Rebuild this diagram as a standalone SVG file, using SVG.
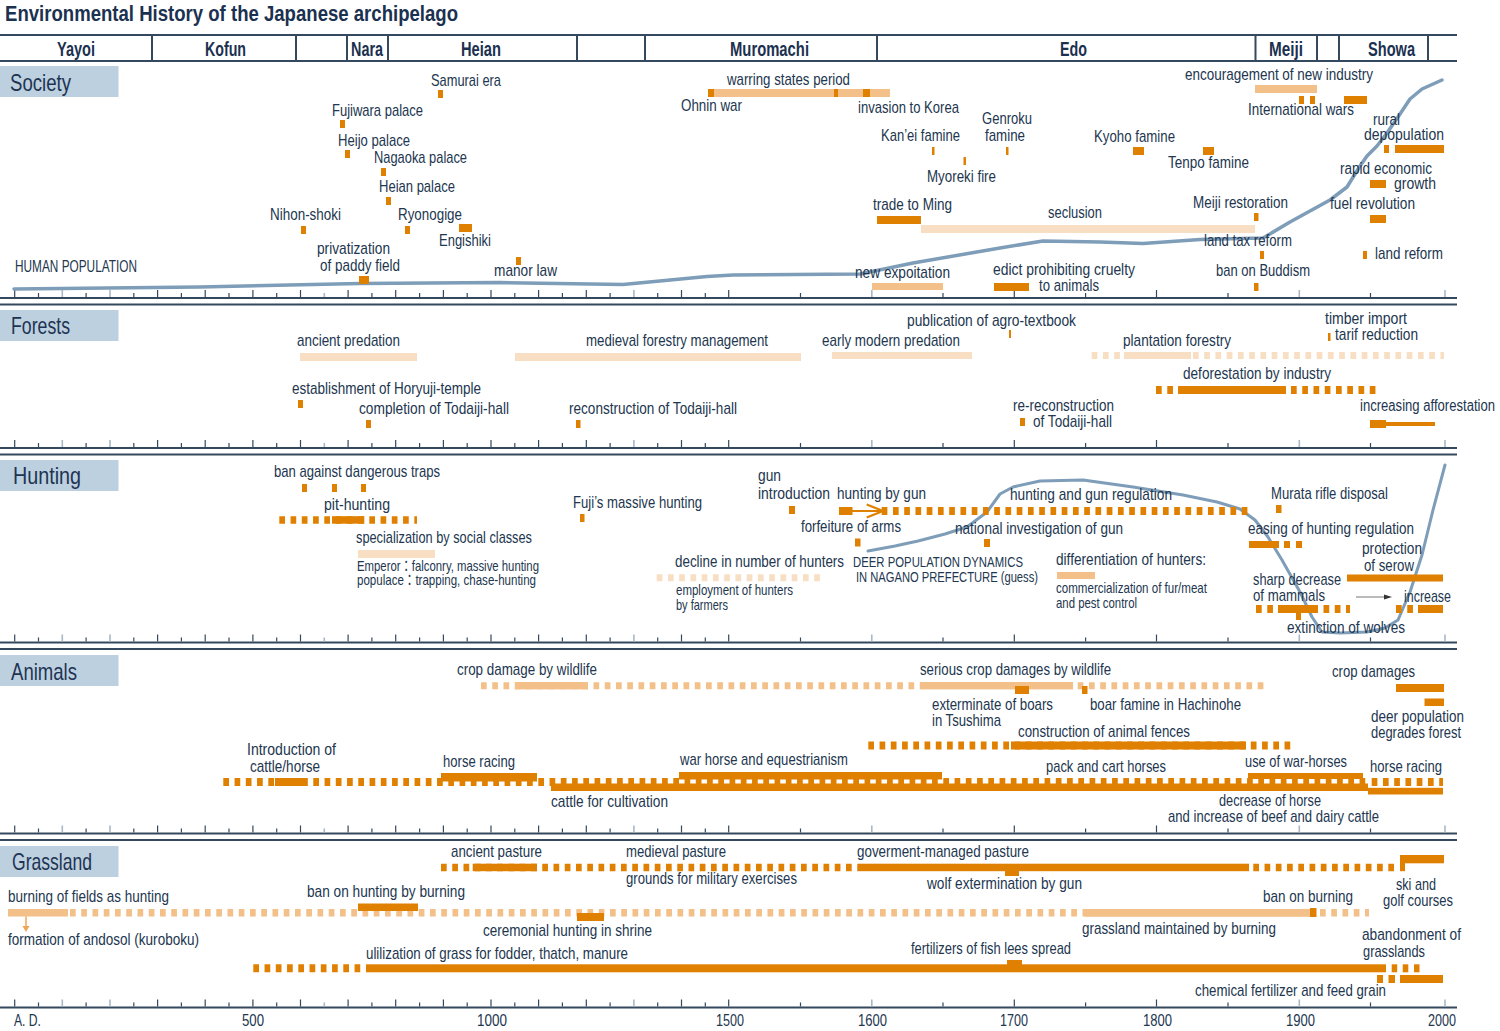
<svg xmlns="http://www.w3.org/2000/svg" width="1500" height="1031" viewBox="0 0 1500 1031">
<style>
text{font-family:'Liberation Sans Narrow','Liberation Sans',Arial,'Noto Sans CJK JP',sans-serif;fill:#22364f;font-size:17px}
.s{font-size:14.5px}
.n{font-size:15.5px}
.h{font-size:20px;font-weight:bold;fill:#1b3150}
.ttl{font-size:22px;font-weight:bold;fill:#1b3150}
.sec{font-size:24px;fill:#1e3452}
.ax{font-size:17px}
.d{fill:#e08000}
.m{fill:#f2c088}
.p{fill:#f8dfc4}
.dd,.dm,.dp{stroke-dasharray:5.7 5.55;fill:none}
.dd{stroke:#e08000}
.dm{stroke:#f2c088}
.dp{stroke:#f8dfc4}
.box{fill:#bdd0e0}
.ln{stroke:#34495e;stroke-width:2}
.tk{stroke:#34495e;stroke-width:1.2;fill:none}
.tg{stroke:#a9b8c6;stroke-width:1.6;fill:none}
.curve{fill:none;stroke:#7e9db8;stroke-width:3.5;stroke-linejoin:round;stroke-linecap:round}
</style>
<defs>
<g id="ticks">
<path class="tk" d="M14.7 0v-7M157.6 0v-7M205.2 0v-7M252.9 0v-7M300.5 0v-7M348.1 0v-7M395.7 0v-7M443.4 0v-7M491 0v-7M538.6 0v-7M586.3 0v-7M681.5 0v-7M728.7 0v-7M1014.3 0v-7M1156.5 0v-7M38.5 0v-4M86.1 0v-4M133.8 0v-4M181.4 0v-4M229 0v-4M276.7 0v-4M371.9 0v-4M419.6 0v-4M467.2 0v-4M514.8 0v-4M562.4 0v-4M610.1 0v-4M657.7 0v-4M705.3 0v-4M800.5 0v-4M943 0v-4M1085.6 0v-4M1228 0v-4M1370.5 0v-4"/>
<path class="tg" d="M62.3 0v-7M110 0v-7M633.9 0v-7M871.8 0v-7M1299.3 0v-7M1445 0v-7M324.3 0v-4"/>
</g>
</defs>
<rect width="1500" height="1031" fill="#ffffff"/>

<g id="title"><text class="ttl" x="5" y="21" textLength="453" lengthAdjust="spacingAndGlyphs">Environmental History of the Japanese archipelago</text></g>

<g id="frame">
<line class="ln" x1="0" x2="1457" y1="35" y2="35"/>
<line class="ln" x1="0" x2="1457" y1="61" y2="61"/>
<path class="ln" d="M152 35V61M296 35V61M347 35V61M388 35V61M577 35V61M645 35V61M877 35V61M1255.5 35V61M1317 35V61M1339 35V61M1428 35V61" fill="none"/>
<line class="ln" x1="0" x2="1457" y1="298" y2="298"/>
<line class="ln" x1="0" x2="1457" y1="304.5" y2="304.5"/>
<line class="ln" x1="0" x2="1457" y1="448" y2="448"/>
<line class="ln" x1="0" x2="1457" y1="454.5" y2="454.5"/>
<line class="ln" x1="0" x2="1457" y1="642.5" y2="642.5"/>
<line class="ln" x1="0" x2="1457" y1="649" y2="649"/>
<line class="ln" x1="0" x2="1457" y1="833.5" y2="833.5"/>
<line class="ln" x1="0" x2="1457" y1="840" y2="840"/>
<line class="ln" x1="0" x2="1457" y1="1007.5" y2="1007.5"/>
<use href="#ticks" y="297"/>
<use href="#ticks" y="447"/>
<use href="#ticks" y="641.5"/>
<use href="#ticks" y="832.5"/>
<use href="#ticks" y="1006.5"/>
</g>

<g id="eras">
<text class="h" x="57" y="56" textLength="38" lengthAdjust="spacingAndGlyphs">Yayoi</text>
<text class="h" x="205" y="56" textLength="41" lengthAdjust="spacingAndGlyphs">Kofun</text>
<text class="h" x="351" y="56" textLength="32" lengthAdjust="spacingAndGlyphs">Nara</text>
<text class="h" x="461" y="56" textLength="40" lengthAdjust="spacingAndGlyphs">Heian</text>
<text class="h" x="730" y="56" textLength="79" lengthAdjust="spacingAndGlyphs">Muromachi</text>
<text class="h" x="1060" y="56" textLength="27" lengthAdjust="spacingAndGlyphs">Edo</text>
<text class="h" x="1269" y="56" textLength="34" lengthAdjust="spacingAndGlyphs">Meiji</text>
<text class="h" x="1368" y="56" textLength="47" lengthAdjust="spacingAndGlyphs">Showa</text>
</g>

<g id="axis">
<text class="ax" x="14" y="1026" textLength="27" lengthAdjust="spacingAndGlyphs">A. D.</text>
<text class="ax" x="242" y="1026" textLength="22" lengthAdjust="spacingAndGlyphs">500</text>
<text class="ax" x="477" y="1026" textLength="30" lengthAdjust="spacingAndGlyphs">1000</text>
<text class="ax" x="716" y="1026" textLength="28" lengthAdjust="spacingAndGlyphs">1500</text>
<text class="ax" x="858" y="1026" textLength="29" lengthAdjust="spacingAndGlyphs">1600</text>
<text class="ax" x="1000" y="1026" textLength="28" lengthAdjust="spacingAndGlyphs">1700</text>
<text class="ax" x="1143" y="1026" textLength="29" lengthAdjust="spacingAndGlyphs">1800</text>
<text class="ax" x="1286" y="1026" textLength="29" lengthAdjust="spacingAndGlyphs">1900</text>
<text class="ax" x="1428" y="1026" textLength="28" lengthAdjust="spacingAndGlyphs">2000</text>
</g>

<g id="section-labels">
<rect class="box" x="0" y="66" width="118.5" height="31"/>
<text class="sec" x="10" y="91" textLength="61" lengthAdjust="spacingAndGlyphs">Society</text>
<rect class="box" x="0" y="310" width="118.5" height="31"/>
<text class="sec" x="11" y="334" textLength="59" lengthAdjust="spacingAndGlyphs">Forests</text>
<rect class="box" x="0" y="460" width="118.5" height="31"/>
<text class="sec" x="13" y="484" textLength="68" lengthAdjust="spacingAndGlyphs">Hunting</text>
<rect class="box" x="0" y="655" width="118.5" height="31"/>
<text class="sec" x="11" y="680" textLength="66" lengthAdjust="spacingAndGlyphs">Animals</text>
<rect class="box" x="0" y="846" width="118.5" height="31"/>
<text class="sec" x="12" y="870" textLength="80" lengthAdjust="spacingAndGlyphs">Grassland</text>
</g>

<g id="human-population">
<path class="curve" d="M14 289 L200 287 L360 283.5 L500 282.5 L623 284.5 L707 276.5 L733 275 L860 274 L913 263 L1000 248 L1043 241 L1100 242 L1143 243.5 L1200 239.5 L1263 238 L1290 222 L1330 200 L1347 187 L1360 166 L1367 156 L1377 146 L1387 133 L1400 114 L1410 99 L1422 89 L1442 80"/>
<text x="15" y="272" textLength="122" lengthAdjust="spacingAndGlyphs">HUMAN POPULATION</text>
</g>

<g id="deer-population">
<path class="curve" style="stroke-width:3" d="M868 551 L895 546 L918 541 L945 534 L967 527 L987 512 L1000 494 L1013 487 L1040 481 L1083 480 L1133 487 L1183 495 L1217 502 L1240 509 L1255 520 L1268 537 L1282 560 L1300 592 L1312 617 L1322 632 L1340 633 L1367 632 L1385 628 L1398 620 L1410 592 L1422 555 L1433 510 L1445 465"/>
<text class="n" x="853" y="567" textLength="170" lengthAdjust="spacingAndGlyphs">DEER POPULATION DYNAMICS</text>
<text class="n" x="856" y="582" textLength="182" lengthAdjust="spacingAndGlyphs">IN NAGANO PREFECTURE (guess)</text>
</g>

<!-- SOCIETY -->
<g id="samurai-era"><text x="431" y="86" textLength="70" lengthAdjust="spacingAndGlyphs">Samurai era</text><rect class="d" x="438" y="90" width="5" height="8"/></g>
<g id="fujiwara-palace"><text x="332" y="116" textLength="91" lengthAdjust="spacingAndGlyphs">Fujiwara palace</text><rect class="d" x="340" y="120" width="5" height="8"/></g>
<g id="heijo-palace"><text x="338" y="146" textLength="72" lengthAdjust="spacingAndGlyphs">Heijo palace</text><rect class="d" x="345" y="150" width="5" height="8"/></g>
<g id="nagaoka-palace"><text x="374" y="163" textLength="93" lengthAdjust="spacingAndGlyphs">Nagaoka palace</text><rect class="d" x="381" y="168" width="5" height="8"/></g>
<g id="heian-palace"><text x="379" y="192" textLength="76" lengthAdjust="spacingAndGlyphs">Heian palace</text><rect class="d" x="386" y="197" width="5" height="8"/></g>
<g id="nihon-shoki"><text x="270" y="220" textLength="71" lengthAdjust="spacingAndGlyphs">Nihon-shoki</text><rect class="d" x="301" y="226" width="5" height="8"/></g>
<g id="ryonogige"><text x="398" y="220" textLength="64" lengthAdjust="spacingAndGlyphs">Ryonogige</text><rect class="d" x="405" y="226" width="5" height="8"/></g>
<g id="engishiki"><text x="439" y="246" textLength="52" lengthAdjust="spacingAndGlyphs">Engishiki</text><rect class="d" x="459" y="224" width="13" height="8"/></g>
<g id="privatization"><text x="317" y="254" textLength="73" lengthAdjust="spacingAndGlyphs">privatization</text><text x="320" y="271" textLength="80" lengthAdjust="spacingAndGlyphs">of paddy field</text><rect class="d" x="359" y="276" width="10" height="8"/></g>
<g id="manor-law"><text x="494" y="276" textLength="63" lengthAdjust="spacingAndGlyphs">manor law</text><rect class="d" x="516" y="257" width="5" height="8"/></g>
<g id="warring-states"><text x="727" y="85" textLength="123" lengthAdjust="spacingAndGlyphs">warring states period</text><rect class="m" x="708" y="89" width="182" height="8"/><rect class="d" x="708" y="89" width="6" height="8"/><rect class="d" x="834" y="89" width="4" height="8"/><rect class="d" x="863" y="89" width="7" height="8"/></g>
<g id="ohnin-war"><text x="681" y="111" textLength="61" lengthAdjust="spacingAndGlyphs">Ohnin war</text></g>
<g id="invasion-korea"><text x="858" y="113" textLength="101" lengthAdjust="spacingAndGlyphs">invasion to Korea</text></g>
<g id="kanei-famine"><text x="881" y="141" textLength="79" lengthAdjust="spacingAndGlyphs">Kan’ei famine</text><rect class="d" x="932" y="147" width="2.5" height="8"/></g>
<g id="myoreki-fire"><text x="927" y="182" textLength="69" lengthAdjust="spacingAndGlyphs">Myoreki fire</text><rect class="d" x="963.5" y="157" width="2.5" height="8"/></g>
<g id="genroku-famine"><text x="982" y="124" textLength="50" lengthAdjust="spacingAndGlyphs">Genroku</text><text x="985" y="141" textLength="40" lengthAdjust="spacingAndGlyphs">famine</text><rect class="d" x="1006" y="147" width="2.5" height="8"/></g>
<g id="trade-ming"><text x="873" y="210" textLength="79" lengthAdjust="spacingAndGlyphs">trade to Ming</text><rect class="d" x="877" y="216" width="44" height="8"/></g>
<g id="seclusion"><text x="1048" y="218" textLength="54" lengthAdjust="spacingAndGlyphs">seclusion</text><rect class="p" x="921" y="225" width="334" height="8"/></g>
<g id="new-expoitation"><text x="855" y="278" textLength="95" lengthAdjust="spacingAndGlyphs">new expoitation</text><rect class="m" x="872" y="283" width="71" height="7"/></g>
<g id="edict-cruelty"><text x="993" y="275" textLength="142" lengthAdjust="spacingAndGlyphs">edict prohibiting cruelty</text><text x="1039" y="291" textLength="60" lengthAdjust="spacingAndGlyphs">to animals</text><rect class="d" x="994" y="283" width="35" height="8"/></g>
<g id="kyoho-famine"><text x="1094" y="142" textLength="81" lengthAdjust="spacingAndGlyphs">Kyoho famine</text><rect class="d" x="1133" y="147" width="11" height="8"/></g>
<g id="tenpo-famine"><text x="1168" y="168" textLength="81" lengthAdjust="spacingAndGlyphs">Tenpo famine</text><rect class="d" x="1203" y="147" width="11" height="8"/></g>
<g id="meiji-restoration"><text x="1193" y="208" textLength="95" lengthAdjust="spacingAndGlyphs">Meiji restoration</text><rect class="d" x="1254" y="213" width="4.5" height="8"/></g>
<g id="land-tax-reform"><text x="1204" y="246" textLength="88" lengthAdjust="spacingAndGlyphs">land tax reform</text><rect class="d" x="1260" y="251" width="4" height="8"/></g>
<g id="ban-buddism"><text x="1216" y="276" textLength="94" lengthAdjust="spacingAndGlyphs">ban on Buddism</text><rect class="d" x="1254" y="283" width="4.5" height="8"/></g>
<g id="new-industry"><text x="1185" y="80" textLength="188" lengthAdjust="spacingAndGlyphs">encouragement of new industry</text><rect class="m" x="1255" y="85" width="62" height="8"/></g>
<g id="international-wars"><text x="1248" y="115" textLength="106" lengthAdjust="spacingAndGlyphs">International wars</text><rect class="d" x="1299" y="96" width="5" height="8"/><rect class="d" x="1310" y="96" width="5" height="8"/><rect class="d" x="1344" y="96" width="23" height="8"/></g>
<g id="rural-depopulation"><text style="font-size:16px" x="1373" y="125" textLength="27" lengthAdjust="spacingAndGlyphs">rural</text><text style="font-size:16px" x="1364" y="139.5" textLength="80" lengthAdjust="spacingAndGlyphs">depopulation</text><rect class="d" x="1384" y="145" width="5" height="8"/><rect class="d" x="1395" y="145" width="49" height="8"/></g>
<g id="rapid-growth"><text style="font-size:16px" x="1340" y="174" textLength="92" lengthAdjust="spacingAndGlyphs">rapid economic</text><text style="font-size:16px" x="1394" y="189" textLength="42" lengthAdjust="spacingAndGlyphs">growth</text><rect class="d" x="1370" y="180" width="16" height="8"/></g>
<g id="fuel-revolution"><text x="1330" y="209" textLength="85" lengthAdjust="spacingAndGlyphs">fuel revolution</text><rect class="d" x="1370" y="215" width="16" height="8"/></g>
<g id="land-reform"><text x="1375" y="259" textLength="68" lengthAdjust="spacingAndGlyphs">land reform</text><rect class="d" x="1363" y="251" width="4" height="8"/></g>

<!-- FORESTS -->
<g id="ancient-predation"><text x="297" y="346" textLength="103" lengthAdjust="spacingAndGlyphs">ancient predation</text><rect class="p" x="300" y="353" width="117" height="8"/></g>
<g id="horyuji"><text x="292" y="394" textLength="189" lengthAdjust="spacingAndGlyphs">establishment of Horyuji-temple</text><rect class="d" x="298" y="400" width="5" height="8"/></g>
<g id="todaiji-completion"><text x="359" y="414" textLength="150" lengthAdjust="spacingAndGlyphs">completion of Todaiji-hall</text><rect class="d" x="366" y="420" width="5" height="8"/></g>
<g id="medieval-forestry"><text x="586" y="346" textLength="182" lengthAdjust="spacingAndGlyphs">medieval forestry management</text><rect class="p" x="515" y="353" width="286" height="8"/></g>
<g id="early-modern-predation"><text x="822" y="346" textLength="138" lengthAdjust="spacingAndGlyphs">early modern predation</text><rect class="p" x="832" y="352" width="140" height="7"/></g>
<g id="todaiji-reconstruction"><text x="569" y="414" textLength="168" lengthAdjust="spacingAndGlyphs">reconstruction of Todaiji-hall</text><rect class="d" x="576" y="420" width="4.5" height="8"/></g>
<g id="agro-textbook"><text x="907" y="326" textLength="169" lengthAdjust="spacingAndGlyphs">publication of agro-textbook</text><rect class="d" x="1009" y="330" width="2" height="8"/></g>
<g id="plantation-forestry"><text x="1123" y="346" textLength="108" lengthAdjust="spacingAndGlyphs">plantation forestry</text><line class="dp" x1="1091.7" x2="1444" y1="355.5" y2="355.5" stroke-width="7"/><rect class="p" x="1124" y="352" width="67" height="7"/></g>
<g id="timber-import"><text x="1325" y="324" textLength="82" lengthAdjust="spacingAndGlyphs">timber import</text><text x="1335" y="340" textLength="83" lengthAdjust="spacingAndGlyphs">tarif reduction</text><rect class="d" x="1328" y="333" width="2.5" height="8"/></g>
<g id="deforestation"><text x="1183" y="379" textLength="148" lengthAdjust="spacingAndGlyphs">deforestation by industry</text><line class="dd" x1="1156" x2="1377" y1="390" y2="390" stroke-width="8"/><rect class="d" x="1178" y="386" width="108" height="8"/></g>
<g id="todaiji-re-reconstruction"><text x="1013" y="411" textLength="101" lengthAdjust="spacingAndGlyphs">re-reconstruction</text><text x="1033" y="427" textLength="79" lengthAdjust="spacingAndGlyphs">of Todaiji-hall</text><rect class="d" x="1020" y="418" width="5" height="8"/></g>
<g id="afforestation"><text style="font-size:16px" x="1360" y="411" textLength="135" lengthAdjust="spacingAndGlyphs">increasing afforestation</text><rect class="d" x="1370" y="420" width="16" height="8"/><rect class="d" x="1386" y="422" width="49" height="4"/></g>

<!-- HUNTING -->
<g id="dangerous-traps"><text x="274" y="477" textLength="166" lengthAdjust="spacingAndGlyphs">ban against dangerous traps</text><rect class="d" x="302" y="484" width="5" height="8"/><rect class="d" x="332" y="484" width="5" height="8"/><rect class="d" x="361" y="484" width="5" height="8"/></g>
<g id="pit-hunting"><text x="324" y="510" textLength="66" lengthAdjust="spacingAndGlyphs">pit-hunting</text><line class="dd" x1="279.3" x2="417" y1="520" y2="520" stroke-width="7.5"/><rect class="d" x="332" y="516.2" width="32.3" height="7.5"/></g>
<g id="social-classes"><text x="356" y="543" textLength="176" lengthAdjust="spacingAndGlyphs">specialization by social classes</text><rect class="p" x="358" y="550" width="77" height="8"/><text class="s" x="357" y="571" textLength="182" lengthAdjust="spacingAndGlyphs">Emperor：falconry, massive hunting</text><text class="s" x="357" y="585" textLength="179" lengthAdjust="spacingAndGlyphs">populace：trapping, chase-hunting</text></g>
<g id="fuji-hunting"><text x="573" y="508" textLength="129" lengthAdjust="spacingAndGlyphs">Fuji’s massive hunting</text><rect class="d" x="580" y="514" width="4.5" height="8"/></g>
<g id="gun-introduction"><text x="758" y="481" textLength="23" lengthAdjust="spacingAndGlyphs">gun</text><text x="758" y="499" textLength="72" lengthAdjust="spacingAndGlyphs">introduction</text><rect class="d" x="789" y="506" width="6" height="8"/></g>
<g id="hunting-by-gun"><text x="837" y="499" textLength="89" lengthAdjust="spacingAndGlyphs">hunting by gun</text><rect class="d" x="839" y="507" width="13.5" height="8"/><line class="dd" x1="881.7" x2="1248.5" y1="511" y2="511" stroke-width="8"/></g>
<g id="forfeiture-arms"><text x="801" y="532" textLength="100" lengthAdjust="spacingAndGlyphs">forfeiture of arms</text><rect class="d" x="855" y="538.5" width="5.5" height="8"/></g>
<g id="gun-regulation"><text x="1010" y="500" textLength="162" lengthAdjust="spacingAndGlyphs">hunting and gun regulation</text></g>
<g id="gun-investigation"><text x="955" y="534" textLength="168" lengthAdjust="spacingAndGlyphs">national investigation of gun</text><rect class="d" x="984" y="539" width="6" height="8"/></g>
<g id="murata-rifle"><text x="1271" y="499" textLength="117" lengthAdjust="spacingAndGlyphs">Murata rifle disposal</text><rect class="d" x="1276" y="505" width="5.5" height="8"/></g>
<g id="easing-regulation"><text x="1248" y="534" textLength="166" lengthAdjust="spacingAndGlyphs">easing of hunting regulation</text><rect class="d" x="1249" y="541" width="30" height="7"/><rect class="d" x="1284" y="541" width="6" height="7"/><rect class="d" x="1296" y="541" width="6" height="7"/></g>
<g id="decline-hunters"><text x="675" y="567" textLength="169" lengthAdjust="spacingAndGlyphs">decline in number of hunters</text><line class="dp" x1="656.7" x2="821" y1="577.7" y2="577.7" stroke-width="7"/><text class="s" x="676" y="595" textLength="117" lengthAdjust="spacingAndGlyphs">employment of hunters</text><text class="s" x="676" y="610" textLength="52" lengthAdjust="spacingAndGlyphs">by farmers</text></g>
<g id="differentiation-hunters"><text x="1056" y="565" textLength="150" lengthAdjust="spacingAndGlyphs">differentiation of hunters:</text><rect class="m" x="1057" y="572" width="38" height="7"/><text class="s" x="1056" y="593" textLength="151" lengthAdjust="spacingAndGlyphs">commercialization of fur/meat</text><text class="s" x="1056" y="608" textLength="81" lengthAdjust="spacingAndGlyphs">and pest control</text></g>
<g id="serow-protection"><text x="1362" y="554" textLength="60" lengthAdjust="spacingAndGlyphs">protection</text><text x="1364" y="571" textLength="50" lengthAdjust="spacingAndGlyphs">of serow</text><rect class="d" x="1347" y="574.5" width="96" height="7"/></g>
<g id="mammals-decrease"><text x="1253" y="585" textLength="88" lengthAdjust="spacingAndGlyphs">sharp decrease</text><text x="1253" y="601" textLength="72" lengthAdjust="spacingAndGlyphs">of mammals</text><line class="dd" x1="1256" x2="1350" y1="609" y2="609" stroke-width="8"/><rect class="d" x="1278" y="605" width="40" height="8"/></g>
<g id="mammals-increase"><text x="1404" y="602" textLength="47" lengthAdjust="spacingAndGlyphs">increase</text><line class="dd" x1="1396" x2="1413" y1="609" y2="609" stroke-width="8"/><rect class="d" x="1418" y="605" width="25" height="8"/></g>
<g id="wolves-extinction"><text x="1287" y="633" textLength="118" lengthAdjust="spacingAndGlyphs">extinction of wolves</text><rect class="d" x="1296" y="612" width="5" height="8"/></g>

<!-- ANIMALS -->
<g id="crop-damage"><text x="457" y="675" textLength="140" lengthAdjust="spacingAndGlyphs">crop damage by wildlife</text><line class="dm" x1="481" x2="920" y1="685.7" y2="685.7" stroke-width="7"/><rect class="m" x="515" y="682" width="73" height="7.4"/></g>
<g id="serious-crop-damage"><text x="920" y="675" textLength="191" lengthAdjust="spacingAndGlyphs">serious crop damages by wildlife</text><rect class="m" x="920" y="682" width="153" height="7.4"/><line class="dm" x1="1077.7" x2="1264" y1="685.7" y2="685.7" stroke-width="7"/></g>
<g id="boar-extermination"><text x="932" y="710" textLength="121" lengthAdjust="spacingAndGlyphs">exterminate of boars</text><text x="932" y="726" textLength="69" lengthAdjust="spacingAndGlyphs">in Tsushima</text><rect class="d" x="1015" y="686" width="14" height="8"/></g>
<g id="boar-famine"><text x="1090" y="710" textLength="151" lengthAdjust="spacingAndGlyphs">boar famine in Hachinohe</text><rect class="d" x="1082" y="686" width="5.5" height="8"/></g>
<g id="animal-fences"><text x="1018" y="737" textLength="172" lengthAdjust="spacingAndGlyphs">construction of animal fences</text><line class="dd" x1="868.3" x2="1292" y1="745.5" y2="745.5" stroke-width="8"/><rect class="d" x="1011" y="741.5" width="235" height="8"/></g>
<g id="cattle-horse-introduction"><text x="247" y="755" textLength="89" lengthAdjust="spacingAndGlyphs">Introduction of</text><text x="250" y="772" textLength="70" lengthAdjust="spacingAndGlyphs">cattle/horse</text><line class="dd" x1="223.3" x2="1368" y1="782" y2="782" stroke-width="8"/><rect class="d" x="275" y="778" width="32.3" height="8"/></g>
<g id="horse-racing-ancient"><text x="443" y="767" textLength="72" lengthAdjust="spacingAndGlyphs">horse racing</text><rect class="d" x="441" y="773" width="96" height="8.5"/></g>
<g id="war-horse"><text x="680" y="765" textLength="168" lengthAdjust="spacingAndGlyphs">war horse and equestrianism</text><rect class="d" x="679" y="772" width="263" height="7.5"/></g>
<g id="cattle-cultivation"><text x="551" y="807" textLength="117" lengthAdjust="spacingAndGlyphs">cattle for cultivation</text><rect class="d" x="551" y="783.5" width="817" height="7.5"/></g>
<g id="pack-cart-horses"><text x="1046" y="772" textLength="120" lengthAdjust="spacingAndGlyphs">pack and cart horses</text></g>
<g id="war-horses-use"><text x="1245" y="767" textLength="102" lengthAdjust="spacingAndGlyphs">use of war-horses</text><rect class="d" x="1248" y="773" width="115" height="6"/></g>
<g id="horse-racing-modern"><text x="1370" y="772" textLength="72" lengthAdjust="spacingAndGlyphs">horse racing</text><line class="dd" x1="1371.7" x2="1443" y1="782" y2="782" stroke-width="8"/></g>
<g id="horse-decrease"><text x="1219" y="806" textLength="102" lengthAdjust="spacingAndGlyphs">decrease of horse</text><text x="1168" y="822" textLength="211" lengthAdjust="spacingAndGlyphs">and increase of beef and dairy cattle</text><rect class="d" x="1368" y="787.8" width="75" height="6.7"/></g>
<g id="crop-damages"><text x="1332" y="677" textLength="83" lengthAdjust="spacingAndGlyphs">crop damages</text><rect class="d" x="1396" y="684" width="48" height="8"/></g>
<g id="deer-degrades-forest"><text x="1371" y="722" textLength="93" lengthAdjust="spacingAndGlyphs">deer population</text><text x="1371" y="738" textLength="90" lengthAdjust="spacingAndGlyphs">degrades forest</text><rect class="d" x="1424.5" y="698.5" width="19.5" height="7.5"/></g>

<!-- GRASSLAND -->
<g id="ancient-pasture"><text x="451" y="857" textLength="91" lengthAdjust="spacingAndGlyphs">ancient pasture</text><line class="dd" x1="441" x2="858" y1="867.5" y2="867.5" stroke-width="7.5"/><rect class="d" x="472.7" y="863.7" width="64.3" height="7.5"/></g>
<g id="medieval-pasture"><text x="626" y="857" textLength="100" lengthAdjust="spacingAndGlyphs">medieval pasture</text><text x="626" y="884" textLength="171" lengthAdjust="spacingAndGlyphs">grounds for military exercises</text></g>
<g id="government-pasture"><text x="857" y="857" textLength="172" lengthAdjust="spacingAndGlyphs">goverment-managed pasture</text><rect class="d" x="858" y="863.7" width="391" height="7.5"/><line class="dd" x1="1253.3" x2="1399" y1="867.5" y2="867.5" stroke-width="7.5"/></g>
<g id="wolf-extermination"><text x="927" y="889" textLength="155" lengthAdjust="spacingAndGlyphs">wolf extermination by gun</text><rect class="d" x="1005" y="870" width="14" height="6"/></g>
<g id="ski-golf"><text x="1396" y="890" textLength="40" lengthAdjust="spacingAndGlyphs">ski and</text><text x="1383" y="906" textLength="70" lengthAdjust="spacingAndGlyphs">golf courses</text><rect class="d" x="1400" y="855" width="5" height="16.2"/><rect class="d" x="1400" y="855" width="44" height="8.3"/></g>
<g id="field-burning"><text x="8" y="902" textLength="161" lengthAdjust="spacingAndGlyphs">burning of fields as hunting</text><rect class="m" x="8" y="909" width="60" height="7.5"/><line class="dm" x1="70" x2="1085" y1="912.8" y2="912.8" stroke-width="7.5"/></g>
<g id="andosol"><text x="8" y="945" textLength="191" lengthAdjust="spacingAndGlyphs">formation of andosol (kuroboku)</text></g>
<g id="burning-ban-ancient"><text x="307" y="897" textLength="158" lengthAdjust="spacingAndGlyphs">ban on hunting by burning</text><rect class="d" x="358" y="903.5" width="60" height="7.5"/></g>
<g id="shrine-hunting"><text x="483" y="936" textLength="169" lengthAdjust="spacingAndGlyphs">ceremonial hunting in shrine</text><rect class="d" x="577" y="913" width="27" height="8"/></g>
<g id="grass-utilization"><text x="366" y="959" textLength="262" lengthAdjust="spacingAndGlyphs">ulilization of grass for fodder, thatch, manure</text><line class="dd" x1="253.3" x2="364" y1="968.3" y2="968.3" stroke-width="8"/><rect class="d" x="366" y="964.3" width="1020" height="8"/><rect class="d" x="1391.7" y="964.3" width="5.5" height="8"/><rect class="d" x="1402.7" y="964.3" width="5.6" height="8"/><rect class="d" x="1414" y="964.3" width="5.5" height="8"/></g>
<g id="fish-lees"><text x="911" y="954" textLength="160" lengthAdjust="spacingAndGlyphs">fertilizers of fish lees spread</text><rect class="d" x="1007" y="960" width="15" height="5"/></g>
<g id="burning-maintained"><text x="1082" y="934" textLength="194" lengthAdjust="spacingAndGlyphs">grassland maintained by burning</text><rect class="m" x="1085" y="909" width="228" height="7.8"/><line class="dm" x1="1320" x2="1369" y1="912.8" y2="912.8" stroke-width="7.5"/></g>
<g id="burning-ban"><text x="1263" y="902" textLength="90" lengthAdjust="spacingAndGlyphs">ban on burning</text><rect class="d" x="1310" y="908" width="6.5" height="9"/></g>
<g id="grassland-abandonment"><text x="1362" y="940" textLength="99" lengthAdjust="spacingAndGlyphs">abandonment of</text><text x="1363" y="957" textLength="62" lengthAdjust="spacingAndGlyphs">grasslands</text></g>
<g id="chemical-fertilizer"><text x="1195" y="996" textLength="191" lengthAdjust="spacingAndGlyphs">chemical fertilizer and feed grain</text><rect class="d" x="1377" y="975" width="6" height="8"/><rect class="d" x="1388.5" y="975" width="6.5" height="8"/><rect class="d" x="1400" y="975" width="43" height="8"/></g>

<g id="connectors">
<line x1="852" y1="511" x2="881" y2="511" stroke="#e08000" stroke-width="2"/>
<polyline points="866.7,504.5 883,511 866.7,517.5" fill="none" stroke="#e08000" stroke-width="2.2"/>
<line x1="1356" y1="597" x2="1386" y2="597" stroke="#8c8c8c" stroke-width="1.2"/>
<polygon points="1384,594.5 1392,597 1384,599.5" fill="#333333"/>
<line x1="26" y1="916.5" x2="26" y2="927" stroke="#eda652" stroke-width="1.5"/>
<polygon points="22.5,926 29.5,926 26,932" fill="#eda652"/>
</g>
</svg>
